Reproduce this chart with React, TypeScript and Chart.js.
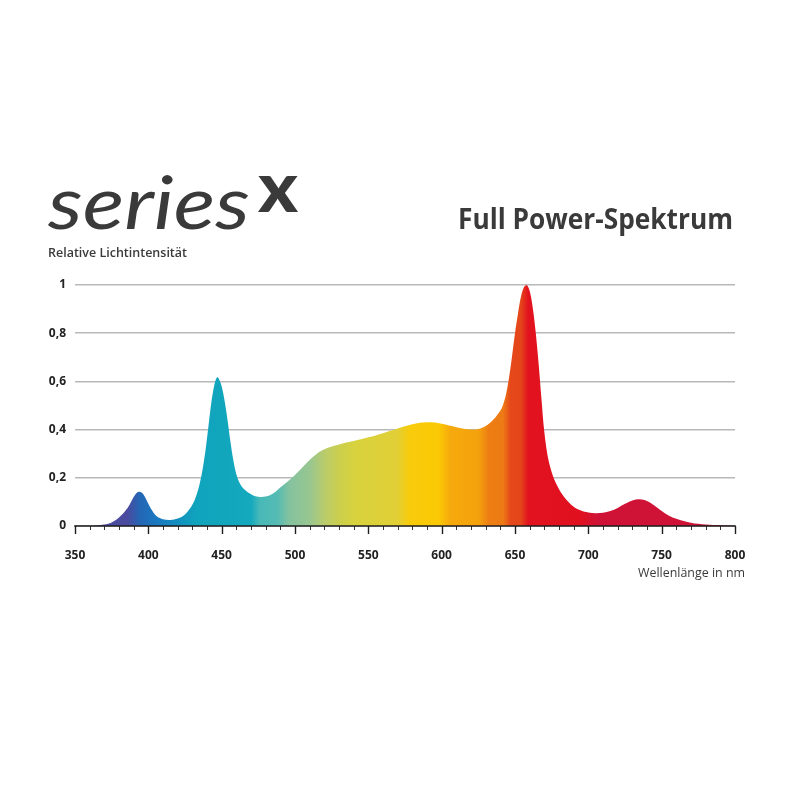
import React, { useEffect, useRef } from "react";
import { Chart, registerables } from "chart.js";

Chart.register(...registerables);

// ---- data ----
const wavelengths = [
  350, 355, 360, 365, 370, 375, 380, 385, 388, 390, 392, 394, 396, 398, 400, 403, 406, 410, 415, 420,
  425, 430, 433, 435, 437, 439, 441, 443, 445, 446, 447, 448, 450, 452, 454, 456, 458, 460, 462, 465,
  470, 475, 480, 485, 490, 495, 500, 505, 510, 515, 520, 525, 530, 535, 540, 545, 550, 555, 560, 565,
  570, 575, 580, 585, 590, 595, 600, 605, 610, 615, 620, 625, 630, 635, 638, 641, 644, 647, 650, 652,
  654, 656, 658, 660, 662, 664, 666, 668, 670, 672, 674, 676, 678, 680, 683, 686, 690, 695,
  700, 705, 710, 715, 720, 725, 730, 735, 740, 745, 750, 755, 760, 765, 770, 775, 780, 790, 800,
];
const intensity = [
  0, 0, 0, 0.002, 0.006, 0.015, 0.035, 0.068, 0.098, 0.12, 0.137, 0.142, 0.136, 0.117, 0.092, 0.06, 0.039, 0.028, 0.025, 0.031,
  0.048, 0.088, 0.132, 0.175, 0.235, 0.315, 0.415, 0.515, 0.585, 0.607, 0.617, 0.612, 0.58, 0.52, 0.44, 0.35, 0.272, 0.215, 0.182, 0.155,
  0.132, 0.121, 0.122, 0.135, 0.16, 0.185, 0.212, 0.243, 0.274, 0.3, 0.318, 0.33, 0.338, 0.346, 0.353, 0.36, 0.368, 0.376, 0.385, 0.395,
  0.405, 0.414, 0.422, 0.428, 0.43, 0.429, 0.424, 0.417, 0.41, 0.404, 0.4, 0.402, 0.415, 0.44, 0.462, 0.49, 0.55, 0.66, 0.8, 0.88,
  0.95, 0.99, 1.0, 0.975, 0.91, 0.81, 0.68, 0.53, 0.39, 0.3, 0.245, 0.205, 0.176, 0.153, 0.125, 0.103, 0.08, 0.064,
  0.056, 0.053, 0.055, 0.062, 0.075, 0.092, 0.106, 0.111, 0.104, 0.085, 0.062, 0.043, 0.03, 0.021, 0.014, 0.009, 0.006, 0.003, 0,
];
const xTickValues = [350, 400, 450, 500, 550, 600, 650, 700, 750, 800];
const yTickValues = [0, 0.2, 0.4, 0.6, 0.8, 1];

const titleText = "Full Power-Spektrum";
const yAxisTitle = "Relative Lichtintensität";
const xAxisTitle = "Wellenlänge in nm";
const logoText = "series";
const logoSup = "x";

// ---- styles ----
const colorStopNm = [350, 386, 394, 405, 420, 432, 470, 476, 488, 496, 510, 521, 531, 541, 570, 578, 598, 606, 625, 632, 642, 647, 654, 659, 695, 706, 800];
const colorStopColor = [
  "#4a4b9f", "#4a4b9f", "#2465b5", "#1a78c0", "#138fbf", "#10a3bd", "#14a9bd", "#48b9b8", "#55bbb3", "#84c29f",
  "#98c690", "#bccc68", "#cccf4c", "#d8d23e", "#e1cf35", "#f8cb0b", "#fbc905", "#f6a90c", "#f4a20c", "#ee7e13",
  "#ed7a14", "#e5481a", "#e4461a", "#e3121f", "#e0101f", "#cf1336", "#cf1336",
];
const TEXT = "#3a3a3a";

function drawFitted(ctx: CanvasRenderingContext2D, text: string, x: number, baseline: number, font: string, width: number) {
  ctx.save();
  ctx.font = font;
  const w = ctx.measureText(text).width;
  ctx.translate(x, baseline);
  ctx.scale(width / w, 1);
  ctx.textAlign = "left";
  ctx.textBaseline = "alphabetic";
  ctx.fillText(text, 0, 0);
  ctx.restore();
}

const decorPlugin = {
  id: "decor",
  afterDraw(chart: any) {
    const { ctx, scales } = chart;
    const x = scales.x;
    const y = scales.y;
    const y0 = y.getPixelForValue(0);
    ctx.save();
    ctx.strokeStyle = "#1e1e1e";
    ctx.lineWidth = 1.6;
    ctx.beginPath();
    ctx.moveTo(x.getPixelForValue(350) - 0.8, y0);
    ctx.lineTo(x.getPixelForValue(800) + 0.8, y0);
    ctx.stroke();
    for (let nm = 350; nm <= 800; nm += 10) {
      const px = Math.round(x.getPixelForValue(nm)) + 0.5;
      const major = nm % 50 === 0;
      ctx.lineWidth = major ? 1.4 : 0.9;
      ctx.beginPath();
      ctx.moveTo(px, y0);
      ctx.lineTo(px, y0 + (major ? 8 : 4));
      ctx.stroke();
    }
    ctx.fillStyle = TEXT;
    drawFitted(ctx, logoText, 48, 229, "italic 400 74px Lato", 202);
    drawFitted(ctx, logoSup, 258, 212, "900 70px Lato", 40);
    drawFitted(ctx, titleText, 458, 229, "bold 29px 'Open Sans'", 275);
    drawFitted(ctx, yAxisTitle, 48, 257, "600 13px 'Open Sans'", 139);
    drawFitted(ctx, xAxisTitle, 638, 577, "12px 'Open Sans'", 107);
    ctx.restore();
  },
};

export default function App() {
  const ref = useRef<HTMLCanvasElement | null>(null);
  useEffect(() => {
    if (!ref.current) return;
    const points = wavelengths.map((w, i) => ({ x: w, y: intensity[i] }));
    const chart = new Chart(ref.current, {
      type: "line",
      data: {
        datasets: [
          {
            data: points,
            fill: "origin",
            borderWidth: 0,
            pointRadius: 0,
            tension: 0.35,
            clip: false,
            backgroundColor: (c: any) => {
              const ch = c.chart;
              if (!ch.chartArea) return "transparent";
              const xs = ch.scales.x;
              const a = xs.getPixelForValue(350);
              const b = xs.getPixelForValue(800);
              const g = ch.ctx.createLinearGradient(a, 0, b, 0);
              colorStopNm.forEach((nm, i) => g.addColorStop((nm - 350) / 450, colorStopColor[i]));
              return g;
            },
          } as any,
        ],
      },
      options: {
        animation: false,
        responsive: false,
        devicePixelRatio: 1,
        layout: { padding: { left: 0, right: 65, top: 285, bottom: 0 } },
        plugins: { legend: { display: false }, tooltip: { enabled: false } },
        scales: {
          x: {
            type: "linear",
            min: 350,
            max: 800,
            afterFit: (s: any) => { s.height = 274; },
            afterBuildTicks: (s: any) => { s.ticks = xTickValues.map((v) => ({ value: v })); },
            grid: { display: false },
            border: { display: false },
            ticks: {
              autoSkip: false,
              maxRotation: 0,
              padding: 14,
              color: "#222",
              font: { family: "'Open Sans'", weight: "bold", size: 12 },
            },
          },
          y: {
            min: 0,
            max: 1,
            afterFit: (s: any) => { s.width = 75; },
            afterBuildTicks: (s: any) => { s.ticks = yTickValues.map((v) => ({ value: v })); },
            grid: { color: "#b8b8b8", lineWidth: 1.5, drawTicks: false },
            border: { display: false },
            ticks: {
              padding: 9,
              color: "#222",
              font: { family: "'Open Sans'", weight: "bold", size: 12 },
              callback: (v: any) => String(Math.round(Number(v) * 10) / 10).replace(".", ","),
            },
          },
        },
      },
      plugins: [decorPlugin],
    } as any);
    return () => chart.destroy();
  }, []);
  return (
    <div style={{ position: "absolute", left: 0, top: 0, width: 800, height: 800, background: "#fff" }}>
      <canvas ref={ref} width={800} height={800} style={{ width: 800, height: 800 }} />
    </div>
  );
}
